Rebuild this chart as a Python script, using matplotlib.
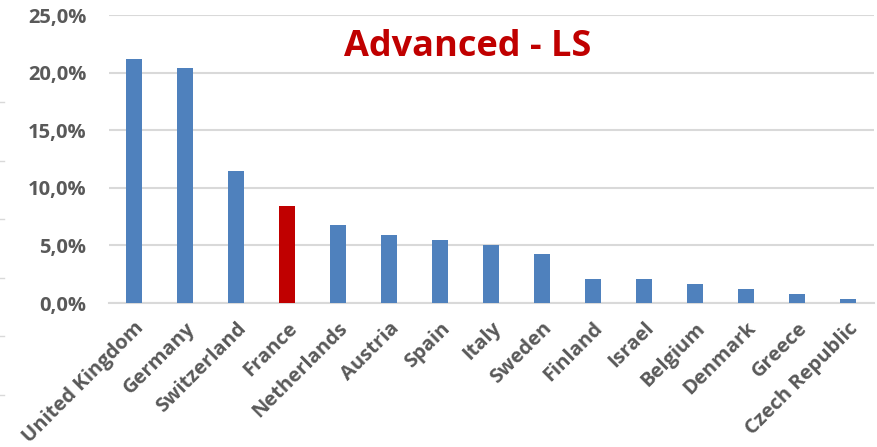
import matplotlib.pyplot as plt
from matplotlib.lines import Line2D
from matplotlib.ticker import FuncFormatter

countries = ["United Kingdom", "Germany", "Switzerland", "France", "Netherlands",
             "Austria", "Spain", "Italy", "Sweden", "Finland", "Israel",
             "Belgium", "Denmark", "Greece", "Czech Republic"]
shares = [21.2, 20.4, 11.5, 8.4, 6.8, 5.9, 5.5, 5.0, 4.3, 2.1, 2.1, 1.65, 1.25, 0.8, 0.37]
highlight = "France"

blue = "#4F81BD"
red = "#C00000"
grey_text = "#595959"
grid_col = "#D9D9D9"

plt.rcParams['font.family'] = ['Open Sans', 'DejaVu Sans']

fig = plt.figure(figsize=(8.78, 4.47), dpi=100)
ax = fig.add_axes([0.1236, 0.322, 0.8713, 0.6444])

colors = [red if c == highlight else blue for c in countries]
x = range(len(countries))
ax.bar(x, shares, width=0.31, color=colors, zorder=3)

ax.set_xlim(-0.5, len(countries) - 0.5)
ax.set_ylim(0, 25)
ax.set_yticks([0, 5, 10, 15, 20, 25])
ax.yaxis.set_major_formatter(FuncFormatter(lambda v, p: f"{v:.1f}%".replace(".", ",")))
ax.grid(axis='y', color=grid_col, linewidth=1.5, zorder=0)
ax.set_axisbelow(True)

for s in ['top', 'right', 'left']:
    ax.spines[s].set_visible(False)
ax.spines['bottom'].set_color(grid_col)
ax.spines['bottom'].set_linewidth(1.5)

ax.tick_params(axis='y', length=0, pad=16, labelsize=14.5, labelcolor=grey_text)
ax.tick_params(axis='x', length=0, pad=11, labelsize=14.5, labelcolor=grey_text)
for lab in ax.get_yticklabels():
    lab.set_fontweight('bold')

ax.set_xticks(list(x))
ax.set_xticklabels(countries, rotation=45, ha='right', va='top',
                   rotation_mode='anchor', fontweight='bold')

ax.text(0.47, 0.89, "Advanced - LS", transform=ax.transAxes, ha='center', va='center',
        fontsize=26, fontweight='bold', color=red)

# faint tick stubs along the left edge of the image (leftover of a cropped axis)
for k in range(6):
    yf = 1 - (102 + k * 58.6) / 447
    fig.add_artist(Line2D([0, 4 / 878], [yf, yf], color=grid_col, linewidth=1))

fig.savefig("out.png", dpi=100)
